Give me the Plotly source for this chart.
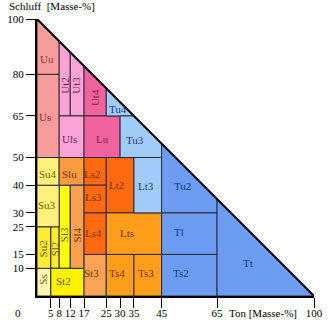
import plotly.graph_objects as go

# ---- data: KA5 soil texture classes (Ton = clay %, Schluff = silt %) ----
names = ["Ss", "Su2", "Sl2", "Sl3", "St2", "Su3", "Su4", "Slu", "Sl4", "St3",
         "Ls2", "Ls3", "Ls4", "Lt2", "Lts", "Ts4", "Ts3",
         "Uu", "Us", "Ut2", "Ut3", "Ut4", "Uls", "Lu",
         "Tu4", "Tu3", "Lt3", "Tu2", "Tl", "Ts2", "Tt"]
ton_lo = [0, 0, 5, 8, 5, 0, 0, 8, 12, 17,
          17, 17, 17, 25, 25, 25, 35,
          0, 0, 8, 12, 17, 8, 17,
          25, 30, 35, 45, 45, 45, 65]
ton_hi = [5, 5, 8, 12, 17, 8, 8, 17, 17, 25,
          25, 25, 25, 35, 45, 35, 45,
          8, 8, 12, 17, 25, 17, 30,
          35, 45, 45, 65, 65, 65, 100]
schluff_lo = [0, 10, 10, 10, 0, 25, 40, 40, 10, 0,
              40, 30, 15, 30, 15, 0, 0,
              80, 50, 65, 65, 65, 50, 50,
              65, 50, 30, 30, 15, 0, 0]
schluff_hi = [10, 25, 25, 40, 10, 40, 50, 50, 40, 15,
              50, 40, 30, 50, 30, 15, 15,
              100, 80, 100, 100, 100, 65, 65,
              100, 65, 50, 100, 30, 15, 100]

x_ticks = [5, 8, 12, 17, 25, 30, 35, 45, 65, 100]
y_ticks = [10, 15, 25, 30, 40, 50, 65, 80, 100]

# ---- styles ----
fills = {
    "Ss": "#FFF6B0", "Su2": "#FFEB30", "Sl2": "#FFEB30", "Sl3": "#FFFF10",
    "St2": "#FFF200", "Su3": "#FFF27A", "Su4": "#FFF27A", "Slu": "#FB9B3F",
    "Sl4": "#FBA050", "St3": "#FBA455",
    "Ls2": "#FF6A10", "Ls3": "#FF6A10", "Ls4": "#FF6A10", "Lt2": "#FF6A10",
    "Lts": "#FF9E1A", "Ts4": "#FF9E1A", "Ts3": "#FF9E1A",
    "Uu": "#F99C9C", "Us": "#F99C9C", "Ut2": "#F9A3D6", "Ut3": "#F9A3D6",
    "Uls": "#F9A3D6", "Ut4": "#F0639F", "Lu": "#F0639F",
    "Tu4": "#A2CCF8", "Tu3": "#A2CCF8", "Lt3": "#A2CCF8",
    "Tu2": "#6C9CF2", "Tl": "#6C9CF2", "Ts2": "#6C9CF2", "Tt": "#6C9CF2",
}
def text_color(n):
    f = fills[n]
    if f in ("#A2CCF8", "#6C9CF2"):
        return "#1A3590"
    if f in ("#F99C9C",):
        return "#9A2A35"
    if f in ("#F9A3D6", "#F0639F"):
        return "#8A1A55"
    if f in ("#FF6A10", "#FF9E1A", "#FB9B3F", "#FBA050", "#FBA455"):
        return "#7A3300"
    return "#6B5E00"

label_pos = {
    "Uu": (3.6, 85.5, 0), "Us": (3.0, 64.7, 0), "Ut2": (10.2, 76, 90),
    "Ut3": (14.2, 76, 90), "Ut4": (21, 71.5, 90), "Tu4": (29.4, 67.4, 0),
    "Uls": (11.7, 56.7, 0), "Lu": (23.8, 56.6, 0), "Tu3": (35.4, 56.3, 0),
    "Su4": (3.8, 44, 0), "Slu": (11.7, 44, 0), "Ls2": (20.1, 44, 0),
    "Lt2": (28.6, 40, 0), "Lt3": (39.4, 39.8, 0), "Ls3": (20.4, 35.6, 0),
    "Tu2": (52.6, 39.7, 0), "Su3": (3.6, 32.8, 0), "Ls4": (20.4, 22.9, 0),
    "Lts": (32.4, 22.9, 0), "Tl": (51.4, 23.2, 0), "Sl4": (14.6, 22, 90),
    "Sl3": (9.8, 22, 90), "Sl2": (6.3, 17, 90), "Su2": (2.0, 17, 90),
    "Ss": (2.1, 5.8, 90), "St2": (9.4, 5.5, 0), "St3": (19.8, 8.2, 0),
    "Ts4": (29, 8.2, 0), "Ts3": (39.4, 8.2, 0), "Ts2": (52, 8.2, 0),
    "Tt": (76.2, 11.8, 0),
}

FONT = "Liberation Serif, Tinos, Times New Roman, serif"


def clip(poly):
    """Clip polygon to half-plane t + u <= 100."""
    out = []
    n = len(poly)
    for i in range(n):
        p, q = poly[i], poly[(i + 1) % n]
        fp, fq = p[0] + p[1] - 100, q[0] + q[1] - 100
        if fp <= 0:
            out.append(p)
        if (fp < 0 < fq) or (fq < 0 < fp):
            s = fp / (fp - fq)
            out.append((p[0] + s * (q[0] - p[0]), p[1] + s * (q[1] - p[1])))
    return out


fig = go.Figure()
for i, n in enumerate(names):
    rect = [(ton_lo[i], schluff_lo[i]), (ton_hi[i], schluff_lo[i]),
            (ton_hi[i], schluff_hi[i]), (ton_lo[i], schluff_hi[i])]
    poly = clip(rect)
    xs = [p[0] for p in poly] + [poly[0][0]]
    ys = [p[1] for p in poly] + [poly[0][1]]
    fig.add_trace(go.Scatter(x=xs, y=ys, mode="lines", fill="toself",
                             fillcolor=fills[n],
                             line=dict(color="#2a2a3a", width=1),
                             hoverinfo="text", text=n, showlegend=False))

# hypotenuse
fig.add_trace(go.Scatter(x=[0, 100], y=[100, 0], mode="lines",
                         line=dict(color="black", width=2),
                         hoverinfo="skip", showlegend=False))

for n in names:
    t, u, ang = label_pos[n]
    fig.add_annotation(x=t, y=u, text=n, showarrow=False, textangle=-ang,
                       xanchor="center", yanchor="middle",
                       font=dict(family=FONT, size=11, color=text_color(n)))

fig.add_annotation(xref="paper", yref="paper", x=-0.108, y=1.047,
                   text="Schluff  [Masse-%]", showarrow=False,
                   xanchor="left", yanchor="middle",
                   font=dict(family=FONT, size=11, color="black"))
fig.add_annotation(xref="paper", yref="paper", x=0.816, y=-0.061,
                   text="Ton [Masse-%]", showarrow=False,
                   xanchor="center", yanchor="middle",
                   font=dict(family=FONT, size=11, color="black"))
fig.add_annotation(xref="paper", yref="paper", x=-0.067, y=-0.061,
                   text="0", showarrow=False,
                   xanchor="center", yanchor="middle",
                   font=dict(family=FONT, size=11, color="black"))

fig.update_xaxes(range=[0, 100], tickvals=x_ticks, automargin=False,
                 ticktext=[str(v) for v in x_ticks], tickangle=0,
                 ticklabelstandoff=-4,
                 ticks="outside", ticklen=10, tickwidth=1, tickcolor="black",
                 showline=True, linecolor="black", linewidth=2,
                 showgrid=False, zeroline=False,
                 tickfont=dict(family=FONT, size=11, color="black"))
fig.update_yaxes(range=[0, 100], tickvals=y_ticks, automargin=False,
                 ticktext=[str(v) for v in y_ticks],
                 ticks="outside", ticklen=9, tickwidth=1, tickcolor="black",
                 showline=True, linecolor="black", linewidth=2,
                 showgrid=False, zeroline=False,
                 tickfont=dict(family=FONT, size=11, color="black"))

fig.update_layout(width=330, height=323,
                  margin=dict(l=37, r=16, t=19, b=27, autoexpand=False),
                  paper_bgcolor="white", plot_bgcolor="white",
                  showlegend=False)

fig.write_html("out.html")
